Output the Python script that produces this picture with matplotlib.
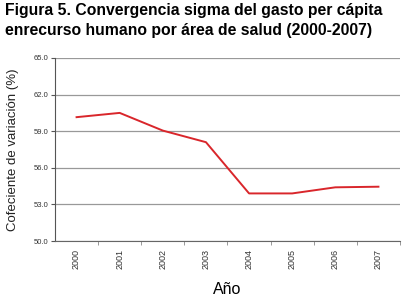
"""Sigma convergence of per capita spending on human resources, 2000-2007."""

import matplotlib

matplotlib.use("Agg")
import matplotlib.pyplot as plt

years = ["2000", "2001", "2002", "2003", "2004", "2005", "2006", "2007"]
coef_variacion = [60.15, 60.5, 59.05, 58.1, 53.9, 53.9, 54.4, 54.45]
y_ticks = [50.0, 53.0, 56.0, 59.0, 62.0, 65.0]

plt.rcParams["font.family"] = ["Liberation Sans", "DejaVu Sans"]

fig = plt.figure(figsize=(4.10, 3.01), dpi=100)
ax = fig.add_axes([55 / 410, 60 / 301, 345 / 410, 183 / 301])

ax.plot(range(len(years)), coef_variacion, color="#d9262b", linewidth=1.4)

ax.set_xlim(-0.5, len(years) - 0.5)
ax.set_ylim(50, 65)
ax.set_yticks(y_ticks)
ax.set_yticklabels([f"{v:.1f}" for v in y_ticks], fontsize=5.5, color="#333333")
ax.set_xticks(range(len(years)))
ax.set_xticklabels(years, rotation=90, fontsize=6.5, color="#333333")
ax.tick_params(axis="x", length=0, pad=6)
ax.set_xticks([i + 0.5 for i in range(len(years))], minor=True)
ax.tick_params(axis="x", which="minor", length=3, color="#888888", direction="out")
ax.tick_params(axis="y", length=3, color="#555555", direction="out", pad=2)
ax.grid(axis="y", color="#999999", linewidth=0.9)
ax.set_axisbelow(True)

for side in ("top", "right"):
    ax.spines[side].set_visible(False)
ax.spines["left"].set_color("#555555")
ax.spines["bottom"].set_color("#666666")

ax.set_ylabel("Cofeciente de variación (%)", fontsize=9.5, color="#222222", labelpad=10)
ax.set_xlabel("Año", fontsize=11.5, labelpad=9)

title_lines = [
    "Figura 5. Convergencia sigma del gasto per cápita",
    "enrecurso humano por área de salud (2000-2007)",
]
fig.text(0.012, 0.99, title_lines[0], fontsize=11.3, fontweight="bold", va="top", ha="left")
fig.text(0.012, 0.925, title_lines[1], fontsize=11.3, fontweight="bold", va="top", ha="left")

fig.savefig("out.png", dpi=100)
